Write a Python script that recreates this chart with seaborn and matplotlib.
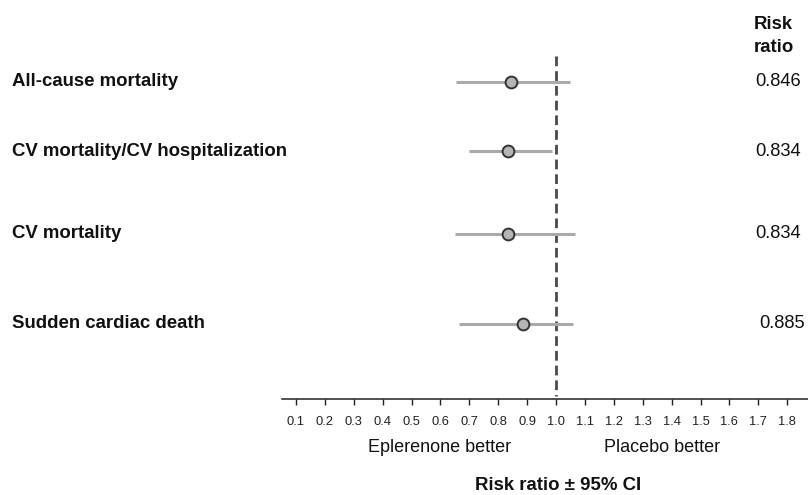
import numpy as np
import pandas as pd
import matplotlib
matplotlib.use("Agg")
import matplotlib.pyplot as plt
import seaborn as sns

# Data
outcomes = ["All-cause mortality", "CV mortality/CV hospitalization",
            "CV mortality", "Sudden cardiac death"]
risk_ratio = [0.846, 0.834, 0.834, 0.885]
ci_low = [0.654, 0.698, 0.650, 0.664]
ci_high = [1.047, 0.987, 1.065, 1.059]
rr_labels = ["0.846", "0.834", "0.834", "0.885"]
tick_vals = [0.1, 0.2, 0.3, 0.4, 0.5, 0.6, 0.7, 0.8, 0.9, 1.0,
             1.1, 1.2, 1.3, 1.4, 1.5, 1.6, 1.7, 1.8]

# layout (pixel positions from the top-left of the figure)
row_y = [82, 151, 234, 324]
label_right = [801, 801, 801, 805]

W, H = 808, 495
sns.set_theme(style="white")
plt.rcParams['font.family'] = ['Liberation Sans', 'DejaVu Sans']

df = pd.DataFrame({"outcome": outcomes, "rr": risk_ratio,
                   "lo": ci_low, "hi": ci_high, "y": row_y})

fig = plt.figure(figsize=(W / 100, H / 100), dpi=100)
axis_y = 399
ax = fig.add_axes([282 / W, (H - axis_y) / H, (W - 282) / W, axis_y / H])

# x scale: 1.0 at ~556 px, 289 px per unit
px_per = 289.0
ax.set_xlim(1 + (282 - 556) / px_per, 1 + (808 - 556) / px_per)
ax.set_ylim(axis_y, 0)

# reference line
ax.vlines(1.0, 56, 396, colors="#4a4a4a", linestyles=(0, (3.5, 1.8)), linewidth=2.0, zorder=1)

# confidence intervals
ax.hlines(df["y"], df["lo"], df["hi"], colors="#aaaaaa", linewidth=2.2, zorder=2)

# point estimates
sns.scatterplot(data=df, x="rr", y="y", ax=ax, s=72, color="#b5b5b5",
                edgecolor="#333333", linewidth=1.4, zorder=3, legend=False)

for s in ["left", "top", "right"]:
    ax.spines[s].set_visible(False)
ax.spines["bottom"].set_color("#222222")
ax.spines["bottom"].set_linewidth(1.1)
ax.set_yticks([])
ax.set_xticks(tick_vals)
ax.set_xticklabels([f"{v:.1f}" for v in tick_vals])
ax.tick_params(axis="x", direction="out", length=4, width=1, color="#222222",
               labelsize=9.3, labelcolor="#222222", pad=8.5, bottom=True)
ax.set_xlabel("")
ax.set_ylabel("")
ax.patch.set_alpha(0)


def fx(x):
    return x / W


def fy(y):
    return 1 - y / H


for name, y in zip(outcomes, row_y):
    fig.text(fx(12), fy(y), name, fontsize=13.4, fontweight="bold",
             ha="left", va="center", color="#111111")

for lab, y, xr in zip(rr_labels, row_y, label_right):
    fig.text(fx(xr), fy(y), lab, fontsize=13.2, ha="right", va="center", color="#111111")

fig.text(fx(754), fy(36), "Risk\nratio", fontsize=13.4, fontweight="bold",
         ha="left", va="center", linespacing=1.4, color="#111111")

fig.text(fx(440), fy(448), "Eplerenone better", fontsize=13, ha="center", va="center",
         color="#111111")
fig.text(fx(662), fy(448), "Placebo better", fontsize=13, ha="center", va="center",
         color="#111111")
fig.text(fx(558), fy(486), "Risk ratio \u00b1 95% CI", fontsize=13.4, fontweight="bold",
         ha="center", va="center", color="#111111")

fig.savefig("out.png", dpi=100)
